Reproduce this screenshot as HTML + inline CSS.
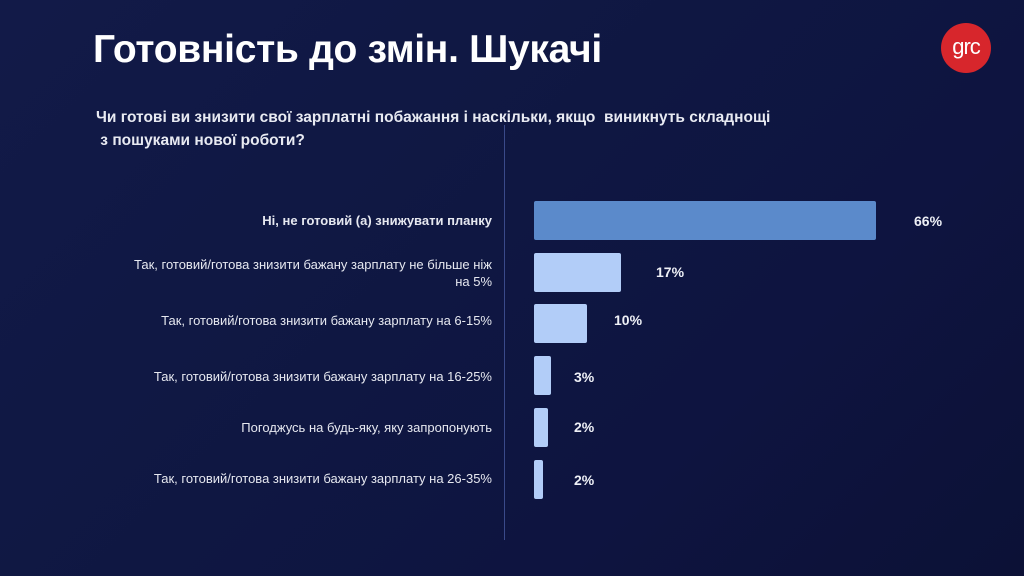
<!DOCTYPE html>
<html><head><meta charset="utf-8"><style>
body{margin:0;width:1024px;height:576px;overflow:hidden;background:linear-gradient(135deg,#121a48 0%,#0f1742 45%,#0e1440 70%,#0c1136 100%);font-family:"Liberation Sans",sans-serif;color:#fff;position:relative}
.a{position:absolute}
.t{left:93px;top:28px;font-size:39px;font-weight:bold;letter-spacing:-0.3px;white-space:nowrap}
.q{left:96px;top:106px;font-size:15.5px;font-weight:bold;line-height:23px;color:#e8eaf2;white-space:nowrap;transform:scaleX(1.0);transform-origin:left}
.logo{left:941px;top:23px;width:50px;height:50px;border-radius:50%;background:#d7262c;font-size:22px;text-align:center;line-height:48px;letter-spacing:-1px}
.vl{left:504px;top:125px;width:1px;height:415px;background:#3a4a8a}
.lb{right:532px;width:460px;text-align:right;font-size:13px;line-height:17px;color:#e6e8f0}
.bar{left:534px;height:39px;border-radius:2px;background:#b2cdf8}
.v{font-size:14px;font-weight:bold;color:#eef0f6}
</style></head><body>
<div class="a t">Готовність до змін. Шукачі</div>
<div class="a logo">grc</div>
<div class="a q">Чи готові ви знизити свої зарплатні побажання і наскільки, якщо&nbsp; виникнуть складнощі<br>&nbsp;з пошуками нової роботи?</div>
<div class="a vl"></div>
<div class="a lb" style="top:212px;font-weight:bold">Ні, не готовий (а) знижувати планку</div>
<div class="a lb" style="top:256px">Так, готовий/готова знизити бажану зарплату не більше ніж<br>на 5%</div>
<div class="a lb" style="top:312px">Так, готовий/готова знизити бажану зарплату на 6-15%</div>
<div class="a lb" style="top:368px">Так, готовий/готова знизити бажану зарплату на 16-25%</div>
<div class="a lb" style="top:419px">Погоджусь на будь-яку, яку запропонують</div>
<div class="a lb" style="top:470px">Так, готовий/готова знизити бажану зарплату на 26-35%</div>
<div class="a bar" style="top:201px;width:342px;background:#5b8acb"></div>
<div class="a bar" style="top:253px;width:87px"></div>
<div class="a bar" style="top:304px;width:53px"></div>
<div class="a bar" style="top:356px;width:17px"></div>
<div class="a bar" style="top:408px;width:14px"></div>
<div class="a bar" style="top:460px;width:9px"></div>
<div class="a v" style="left:914px;top:213px">66%</div>
<div class="a v" style="left:656px;top:264px">17%</div>
<div class="a v" style="left:614px;top:312px">10%</div>
<div class="a v" style="left:574px;top:369px">3%</div>
<div class="a v" style="left:574px;top:419px">2%</div>
<div class="a v" style="left:574px;top:472px">2%</div>
</body></html>
